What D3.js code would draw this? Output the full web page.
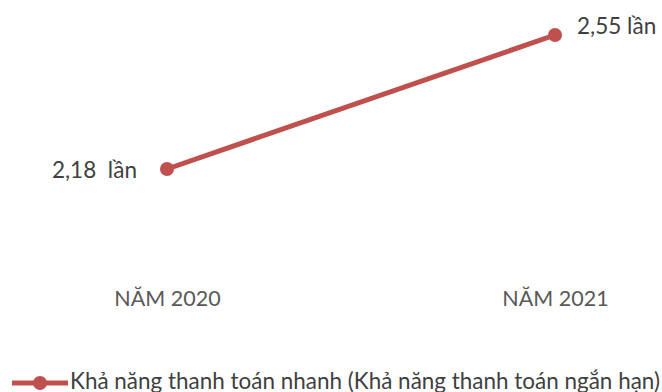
<!DOCTYPE html>
<html><head><meta charset="utf-8">
<script src="https://cdn.jsdelivr.net/npm/d3@7"></script>
<style>body{margin:0;background:#fff}svg{display:block}</style>
</head><body>
<script>
const categories = ["NĂM 2020", "NĂM 2021"];
const values = [2.18, 2.55];
const valueLabels = ["2,18  lần", "2,55 lần"];
const seriesName = "Khả năng thanh toán nhanh (Khả năng thanh toán ngắn hạn)";

const W = 662, H = 392;
const color = "#C0504D";
const font = "Lato, 'Open Sans', sans-serif";
const svg = d3.select("body").append("svg").attr("width", W).attr("height", H);

const x = d3.scalePoint().domain(categories).range([167, 555]);
const y = d3.scaleLinear().domain([2.18, 2.55]).range([169, 35]);

svg.append("path").datum(values)
  .attr("d", d3.line().x((d,i)=>x(categories[i])).y(d=>y(d)))
  .attr("fill","none").attr("stroke",color).attr("stroke-width",5);

svg.selectAll("circle.pt").data(values).join("circle")
  .attr("cx",(d,i)=>x(categories[i])).attr("cy",d=>y(d)).attr("r",7).attr("fill",color);

svg.selectAll("text.vl").data(values).join("text")
  .attr("x",(d,i)=> i===0 ? x(categories[i]) - 30 : x(categories[i]) + 22)
  .attr("y",(d,i)=> i===0 ? y(d) + 9 : y(d) - 1)
  .attr("text-anchor",(d,i)=> i===0 ? "end" : "start")
  .attr("font-family",font).attr("font-size",22.5).attr("fill","#404040")
  .style("white-space","pre")
  .text((d,i)=>valueLabels[i]);

const xAxis = svg.append("g").attr("transform","translate(0,306)")
  .call(d3.axisBottom(x).tickSize(0).tickPadding(0));
xAxis.select(".domain").remove();
xAxis.selectAll("text").attr("font-family",font).attr("font-size",21.5).attr("fill","#595959").attr("dy",0);

const lg = svg.append("g").attr("transform","translate(0,383)");
lg.append("line").attr("x1",12).attr("x2",68).attr("y1",0).attr("y2",0).attr("stroke",color).attr("stroke-width",5);
lg.append("circle").attr("cx",40).attr("cy",0).attr("r",7).attr("fill",color);
lg.append("text").attr("x",70).attr("y",6).attr("font-family",font).attr("font-size",22.5).attr("fill","#404040")
  .attr("textLength",590).attr("lengthAdjust","spacingAndGlyphs").text(seriesName);
</script>
</body></html>
